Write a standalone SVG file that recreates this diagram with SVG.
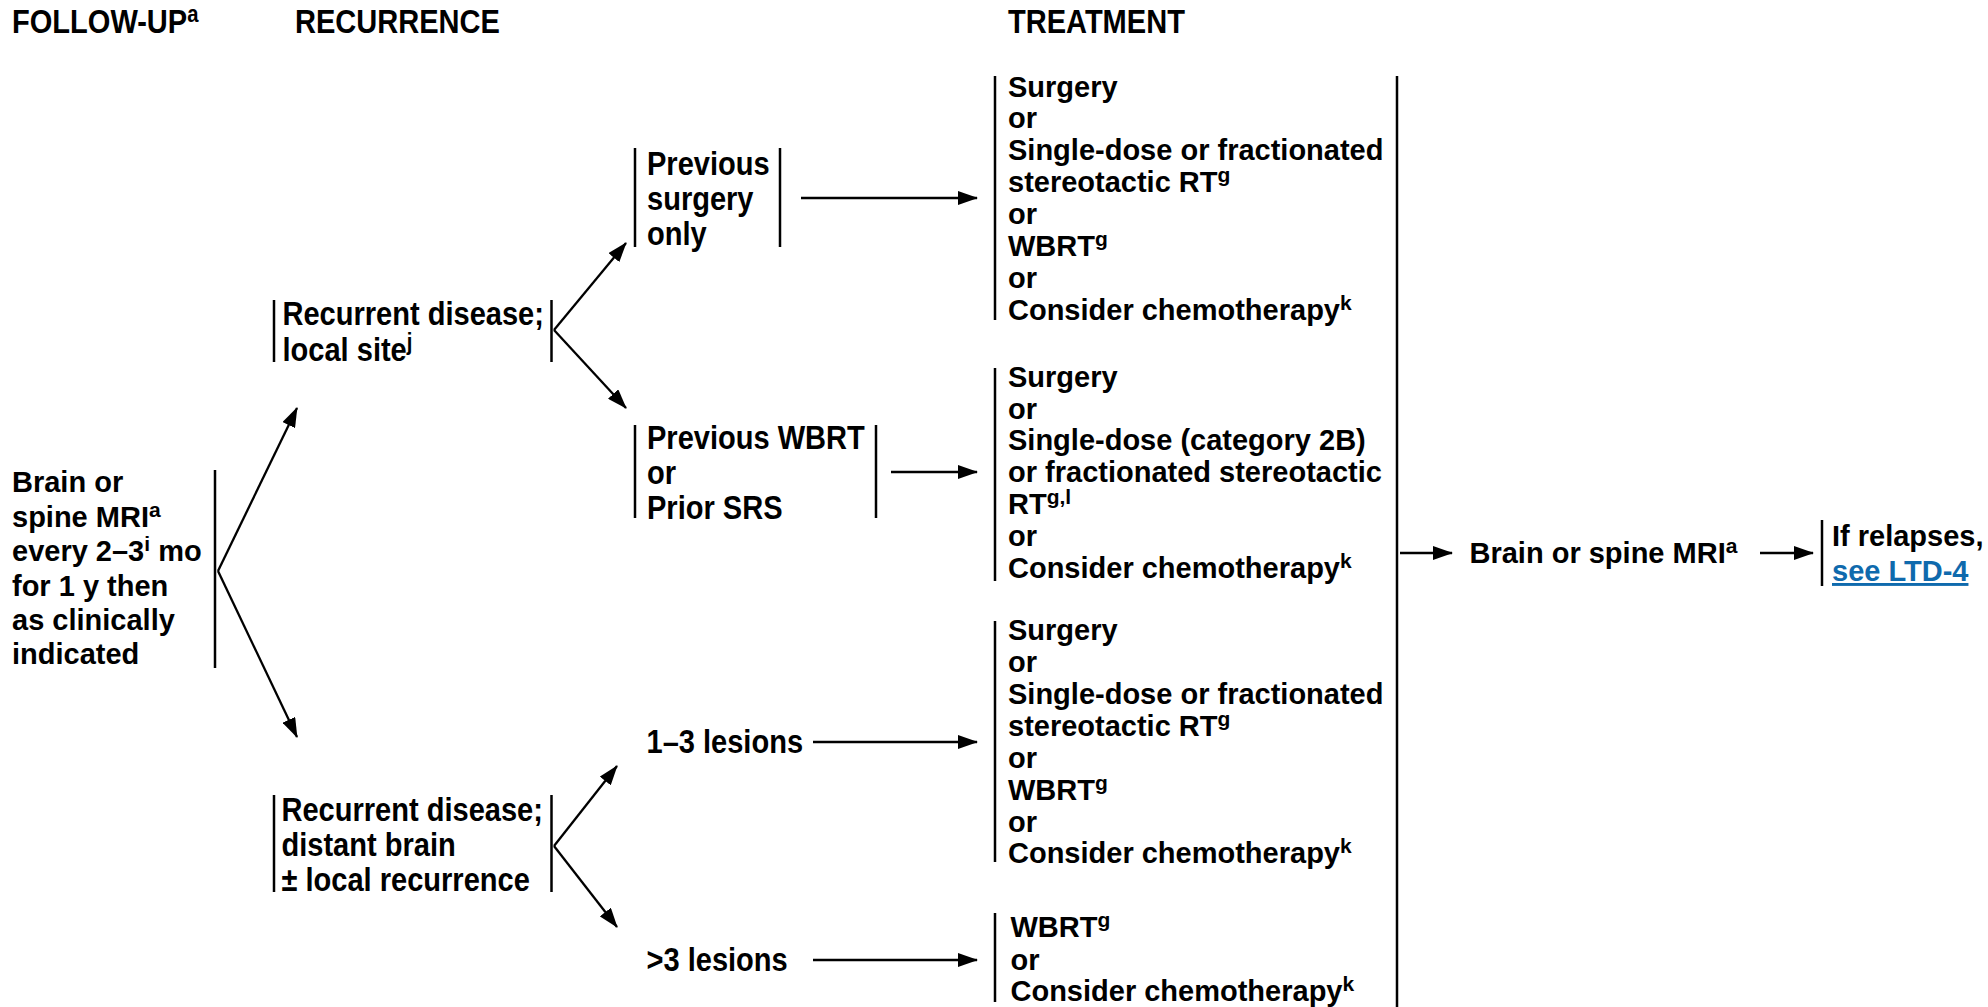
<svg xmlns="http://www.w3.org/2000/svg" width="1988" height="1007" viewBox="0 0 1988 1007">
<style>
text{font-family:"Liberation Sans",Arial,sans-serif;font-weight:bold;fill:#000}
.rg{font-size:29px}
.cn{font-size:33px}
.sup{font-size:21px}
.cn .sup{font-size:23px}
.bar{stroke:#000;stroke-width:2.5;fill:none}
.ln{stroke:#000;stroke-width:2.3;fill:none;marker-end:url(#ah)}
.link{fill:#0f6aad;text-decoration:underline}
</style>
<defs>
<marker id="ah" viewBox="0 0 20 14" refX="19" refY="7" markerWidth="20" markerHeight="14" markerUnits="userSpaceOnUse" orient="auto">
<path d="M0,0 L20,7 L0,14 z" fill="#000"/>
</marker>
</defs>
<rect width="1988" height="1007" fill="#fff"/>

<g id="headers">
<text class="cn" transform="translate(12,33) scale(0.88,1)">FOLLOW-UP<tspan class="sup" dy="-11">a</tspan></text>
<text class="cn" transform="translate(295,33) scale(0.88,1)">RECURRENCE</text>
<text class="cn" transform="translate(1008,33) scale(0.88,1)">TREATMENT</text>
</g>

<g id="followup">
<line class="bar" x1="215" y1="470" x2="215" y2="668"/>
<text class="rg" x="12" y="492">Brain or</text>
<text class="rg" x="12" y="527">spine MRI<tspan class="sup" dy="-10">a</tspan></text>
<text class="rg" x="12" y="561">every 2–3<tspan class="sup" dy="-10">i</tspan><tspan dy="10"> mo</tspan></text>
<text class="rg" x="12" y="596">for 1 y then</text>
<text class="rg" x="12" y="630">as clinically</text>
<text class="rg" x="12" y="664">indicated</text>
</g>

<g id="local">
<line class="bar" x1="274" y1="300" x2="274" y2="362"/>
<line class="bar" x1="551.5" y1="300" x2="551.5" y2="362"/>
<text class="cn" transform="translate(282.5,325) scale(0.88,1)">Recurrent disease;</text>
<text class="cn" transform="translate(282.5,361) scale(0.88,1)">local site<tspan class="sup" dy="-11">j</tspan></text>
</g>

<g id="distant">
<line class="bar" x1="274" y1="795" x2="274" y2="892"/>
<line class="bar" x1="551.5" y1="795" x2="551.5" y2="892"/>
<text class="cn" transform="translate(281.5,821) scale(0.88,1)">Recurrent disease;</text>
<text class="cn" transform="translate(281.5,856) scale(0.88,1)">distant brain</text>
<text class="cn" transform="translate(281.5,891) scale(0.88,1)">± local recurrence</text>
</g>

<g id="prevsurgery">
<line class="bar" x1="635" y1="148" x2="635" y2="247"/>
<line class="bar" x1="780" y1="148" x2="780" y2="247"/>
<text class="cn" transform="translate(647,175) scale(0.88,1)">Previous</text>
<text class="cn" transform="translate(647,210) scale(0.88,1)">surgery</text>
<text class="cn" transform="translate(647,245) scale(0.88,1)">only</text>
</g>

<g id="prevwbrt">
<line class="bar" x1="635" y1="425" x2="635" y2="518"/>
<line class="bar" x1="876" y1="425" x2="876" y2="518"/>
<text class="cn" transform="translate(647,449) scale(0.88,1)">Previous WBRT</text>
<text class="cn" transform="translate(647,484) scale(0.88,1)">or</text>
<text class="cn" transform="translate(647,519) scale(0.88,1)">Prior SRS</text>
</g>

<g id="lesions13">
<text class="cn" transform="translate(646.5,753) scale(0.88,1)">1–3 lesions</text>
</g>

<g id="lesions3plus">
<text class="cn" transform="translate(646.5,971) scale(0.88,1)">&gt;3 lesions</text>
</g>

<g id="tx1">
<line class="bar" x1="995" y1="76" x2="995" y2="320"/>
<text class="rg" x="1008" y="96.5">Surgery</text>
<text class="rg" x="1008" y="128.4">or</text>
<text class="rg" x="1008" y="160.3">Single-dose or fractionated</text>
<text class="rg" x="1008" y="192.2">stereotactic RT<tspan class="sup" dy="-10">g</tspan></text>
<text class="rg" x="1008" y="224">or</text>
<text class="rg" x="1008" y="256">WBRT<tspan class="sup" dy="-10">g</tspan></text>
<text class="rg" x="1008" y="288">or</text>
<text class="rg" x="1008" y="320">Consider chemotherapy<tspan class="sup" dy="-10">k</tspan></text>
</g>

<g id="tx2">
<line class="bar" x1="995" y1="368" x2="995" y2="581"/>
<text class="rg" x="1008" y="386.6">Surgery</text>
<text class="rg" x="1008" y="418.5">or</text>
<text class="rg" x="1008" y="450.4">Single-dose (category 2B)</text>
<text class="rg" x="1008" y="482.3">or fractionated stereotactic</text>
<text class="rg" x="1008" y="514.2">RT<tspan class="sup" dy="-10">g,l</tspan></text>
<text class="rg" x="1008" y="546.1">or</text>
<text class="rg" x="1008" y="578">Consider chemotherapy<tspan class="sup" dy="-10">k</tspan></text>
</g>

<g id="tx3">
<line class="bar" x1="995" y1="621" x2="995" y2="862"/>
<text class="rg" x="1008" y="640">Surgery</text>
<text class="rg" x="1008" y="672">or</text>
<text class="rg" x="1008" y="704">Single-dose or fractionated</text>
<text class="rg" x="1008" y="736">stereotactic RT<tspan class="sup" dy="-10">g</tspan></text>
<text class="rg" x="1008" y="768">or</text>
<text class="rg" x="1008" y="799.6">WBRT<tspan class="sup" dy="-10">g</tspan></text>
<text class="rg" x="1008" y="831.5">or</text>
<text class="rg" x="1008" y="863.4">Consider chemotherapy<tspan class="sup" dy="-10">k</tspan></text>
</g>

<g id="tx4">
<line class="bar" x1="995" y1="913" x2="995" y2="1002"/>
<text class="rg" x="1010.5" y="937">WBRT<tspan class="sup" dy="-10">g</tspan></text>
<text class="rg" x="1010.5" y="970">or</text>
<text class="rg" x="1010.5" y="1001">Consider chemotherapy<tspan class="sup" dy="-10">k</tspan></text>
</g>

<g id="collector">
<line class="bar" x1="1397" y1="76" x2="1397" y2="1007"/>
</g>

<g id="mri">
<text class="rg" x="1469.5" y="563">Brain or spine MRI<tspan class="sup" dy="-10">a</tspan></text>
</g>

<g id="relapse">
<line class="bar" x1="1822" y1="520" x2="1822" y2="586"/>
<text class="rg" x="1832" y="546">If relapses,</text>
<text class="rg link" x="1832" y="581">see LTD-4</text>
</g>

<g id="connectors">
<line class="ln" x1="218" y1="571" x2="297" y2="408"/>
<line class="ln" x1="218" y1="571" x2="297" y2="737"/>
<line class="ln" x1="554" y1="330" x2="626" y2="243"/>
<line class="ln" x1="554" y1="330" x2="626" y2="408"/>
<line class="ln" x1="554" y1="846" x2="617" y2="766"/>
<line class="ln" x1="554" y1="846" x2="617" y2="927"/>
<line class="ln" x1="801" y1="198" x2="977" y2="198"/>
<line class="ln" x1="891" y1="472" x2="977" y2="472"/>
<line class="ln" x1="813" y1="742" x2="977" y2="742"/>
<line class="ln" x1="813" y1="960" x2="977" y2="960"/>
<line class="ln" x1="1400" y1="553" x2="1452" y2="553"/>
<line class="ln" x1="1760" y1="553" x2="1813" y2="553"/>
</g>
</svg>
